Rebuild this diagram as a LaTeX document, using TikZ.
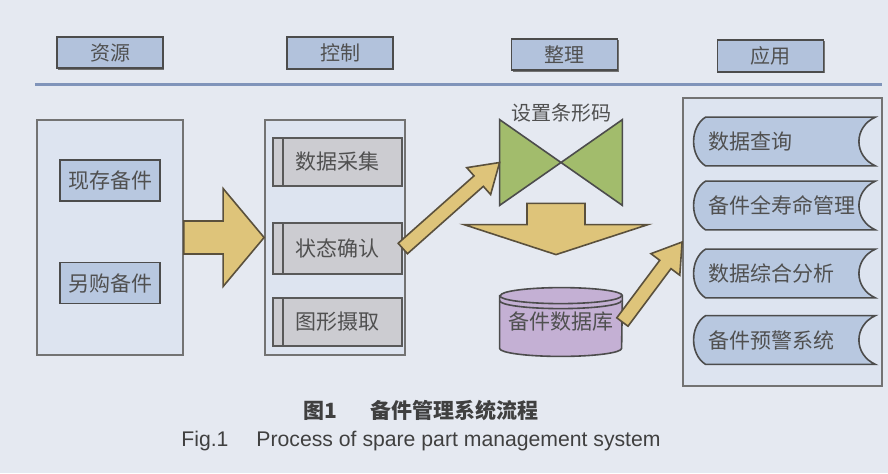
\documentclass[tikz,border=0pt]{standalone}
\usepackage{fontspec}
\setmainfont{Liberation Sans}
\newfontfamily\cjk{Noto Sans CJK SC}
\usetikzlibrary{shapes.geometric, arrows.meta, positioning, calc, backgrounds, shadows}
\definecolor{paper}{RGB}{229,233,241}
\definecolor{panelfill}{RGB}{221,228,240}
\definecolor{headblue}{RGB}{178,194,220}
\definecolor{partblue}{RGB}{184,200,224}
\definecolor{taskgray}{RGB}{204,204,209}
\definecolor{barcodegreen}{RGB}{162,188,108}
\definecolor{dbpurple}{RGB}{196,176,212}
\definecolor{arrowyellow}{RGB}{222,196,122}
\definecolor{arrowedge}{RGB}{90,80,60}
\definecolor{rulerblue}{RGB}{128,148,186}
\definecolor{inkgray}{RGB}{80,80,80}

\begin{document}
\begin{tikzpicture}[
    x=0.5pt, y=-0.5pt,
    font=\cjk\fontsize{10.5}{12}\selectfont,
    text=inkgray,
    stagebox/.style={rectangle, draw=black!70, line width=0.9pt, fill=headblue, minimum width=53pt, minimum height=15.5pt, font=\cjk\fontsize{10}{12}\selectfont, drop shadow={shadow xshift=0.7pt, shadow yshift=-0.7pt, fill=black!55, opacity=1}},
    panel/.style={rectangle, draw=black!55, line width=0.9pt, fill=panelfill, minimum width=#1, minimum height=117.5pt},
    partbox/.style={rectangle, draw=black!70, line width=0.8pt, fill=partblue, minimum width=50pt, minimum height=20.5pt},
    taskbox/.style={rectangle, draw=black!65, line width=0.8pt, fill=taskgray, minimum width=64.5pt, minimum height=24pt,
        path picture={\draw[black!65, line width=0.8pt] ([xshift=5pt]path picture bounding box.north west) -- ([xshift=5pt]path picture bounding box.south west);}},
    appitem/.style={rectangle, minimum width=91pt, minimum height=24pt, text width=76pt, align=left},
    appshape/.style={draw=black!70, line width=0.8pt, fill=partblue},
    tiebox/.style={draw=black!70, line width=0.8pt, fill=barcodegreen, line join=miter},
    dbshape/.style={draw=black!70, line width=0.8pt, fill=dbpurple},
    flow/.style={draw=arrowedge, line width=0.8pt, fill=arrowyellow, line join=miter},
    blockarrow/.style n args={3}{% shaft half width, head half width, head length
        to path={
            let \p1=(\tikztostart), \p2=(\tikztotarget), \p3=($(\p2)!#3!(\p1)$) in
            ($(\p1)!#1!90:(\p2)$) -- ($(\p3)!#1!90:(\p2)$) -- ($(\p3)!#2!90:(\p2)$) -- (\p2)
            -- ($(\p3)!#2!-90:(\p2)$) -- ($(\p3)!#1!-90:(\p2)$) -- ($(\p1)!#1!-90:(\p2)$) -- cycle
        }}
]
    \useasboundingbox (0,0) rectangle (888,473);
    \begin{scope}[on background layer]
        \fill[paper] (0,0) rectangle (888,473);
        \node[panel=73pt] (res) at (110,237.5) {};
        \node[panel=70pt] (ctl) at (335,237.5) {};
        \node[panel=99.5pt, minimum height=144pt] (app) at (782.5,242) {};
    \end{scope}

    % stages
    \node[stagebox] (resource) at (110,52.5) {资源};
    \node[stagebox] (control) at (340,53) {控制};
    \node[stagebox] (arrange) at (564.5,54.5) {整理};
    \node[stagebox] (apply) at (770.5,56) {应用};
    \draw[rulerblue, line width=1.5pt] (35,84) -- (882,84);

    % resources
    \node[partbox] (stock) at (110,180.5) {现存备件};
    \node[partbox] (bought) at (110,283) {另购备件};

    % control
    \node[taskbox] (collect) at (337.5,162) {数据采集};
    \node[taskbox, minimum height=25.5pt] (stat) at (337.5,248.5) {状态确认};
    \node[taskbox] (capture) at (337.5,322) {图形摄取};

    % arrange
    \node[minimum width=61pt, minimum height=42.5pt, inner sep=0pt] (bow) at (561,162.5) {};
    \filldraw[tiebox] (bow.north west) -- (bow.south west) -- (bow.center) -- cycle
        (bow.north east) -- (bow.south east) -- (bow.center) -- cycle;
    \node[font=\cjk\fontsize{10}{12}\selectfont] (barcode) at (561,113) {设置条形码};
    \node[minimum width=61pt, minimum height=34pt, inner sep=0pt] (db) at (561,322) {\raisebox{-3pt}{备件数据库}};
    \begin{pgfonlayer}{background}
        \filldraw[dbshape] ([yshift=-4pt]db.north west) -- ([yshift=4pt]db.south west)
            arc[start angle=180, end angle=360, x radius=30.5pt, y radius=4pt]
            -- ([yshift=-4pt]db.north east)
            arc[start angle=0, end angle=180, x radius=30.5pt, y radius=4pt] -- cycle;
        \draw[dbshape, fill=none] ([yshift=-4pt]db.north west) arc[start angle=180, end angle=360, x radius=30.5pt, y radius=4pt];
        \draw[dbshape, fill=none] ([yshift=-6.5pt]db.north west) arc[start angle=180, end angle=360, x radius=30.5pt, y radius=4pt];
    \end{pgfonlayer}

    % application
    \node[appitem] (query) at (784,141.5) {数据查询};
    \node[appitem] (life) at (784,205.5) {备件全寿命管理};
    \node[appitem] (analysis) at (784,273.5) {数据综合分析};
    \node[appitem] (warning) at (784,340) {备件预警系统};
    \begin{pgfonlayer}{background}
        \foreach \n in {query,life,analysis,warning}
            \filldraw[appshape] ([xshift=6.5pt]\n.north west) -- (\n.north east)
                .. controls ([xshift=-11pt, yshift=-5pt]\n.north east) and ([xshift=-11pt, yshift=5pt]\n.south east) .. (\n.south east)
                -- ([xshift=6.5pt]\n.south west)
                .. controls ([xshift=-1.5pt, yshift=5pt]\n.south west) and ([xshift=-1.5pt, yshift=-5pt]\n.north west) .. ([xshift=6.5pt]\n.north west) -- cycle;
    \end{pgfonlayer}

    % flows
    \draw[flow, blockarrow={8.25pt}{24.5pt}{20.5pt}] (res.east) to (ctl.west);
    \draw[flow, blockarrow={3.5pt}{9pt}{14pt}] (stat.east) to (bow.west);
    \draw[flow, blockarrow={14.5pt}{46pt}{15pt}] ([xshift=-2.5pt, yshift=1pt]bow.south) to ([xshift=-2.5pt, yshift=16.5pt]db.north);
    \draw[flow, blockarrow={3.5pt}{9pt}{14pt}] (db.east) to (app.west);

    % caption
    \node[font=\cjk\bfseries\fontsize{10.5}{12}\selectfont, text=black!75] (capcn) at (421,410) {图1\hspace{1.6em}备件管理系统流程};
    \node[font=\fontsize{10.6}{12}\selectfont, text=black!75] (capen) at (421,441) {Fig.1\hspace{14pt}Process of spare part management system};
\end{tikzpicture}
\end{document}
